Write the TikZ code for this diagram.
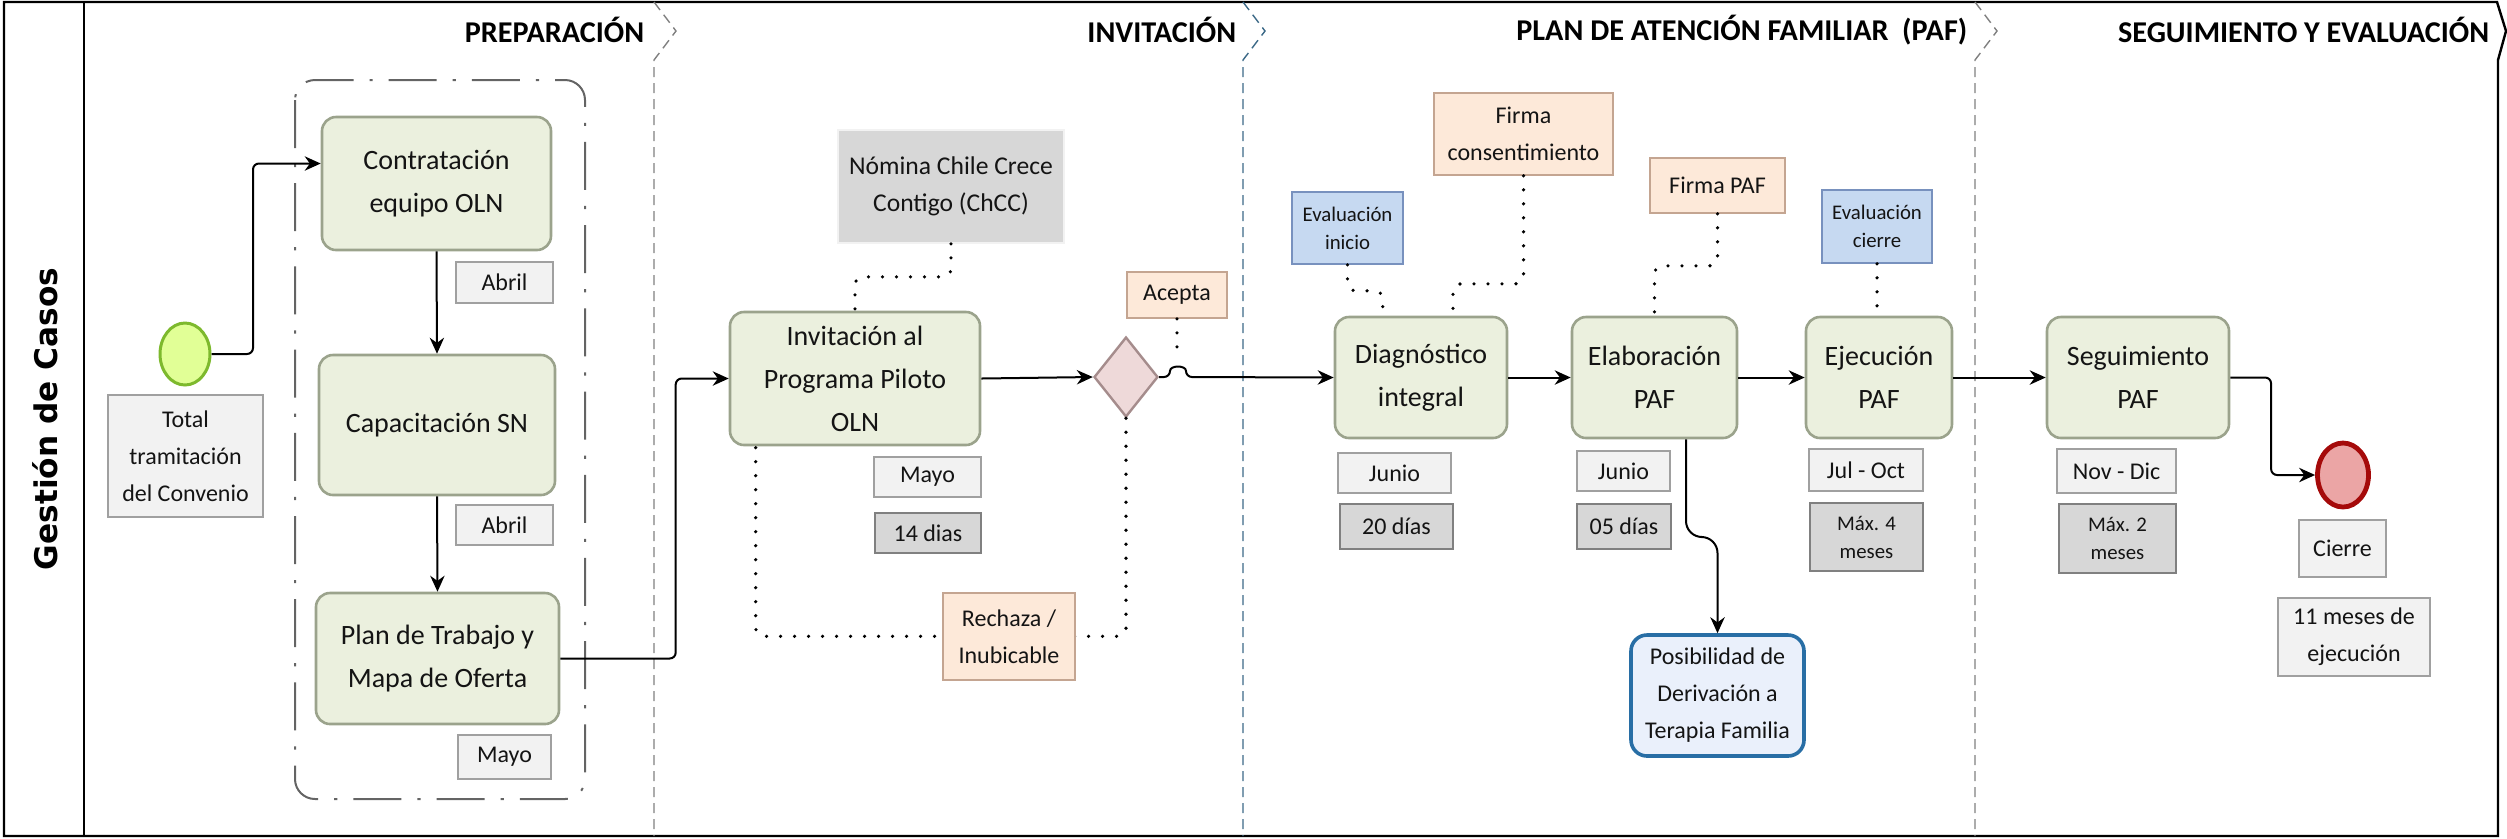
\documentclass[tikz,border=0pt]{standalone}
\usepackage{fontspec}
\setmainfont{Carlito}
\newfontfamily\lanefont{DejaVu Sans}
\usetikzlibrary{arrows.meta,shapes.geometric,calc}

\definecolor{taskfill}{RGB}{235,240,222}
\definecolor{taskdraw}{RGB}{155,163,140}
\definecolor{lightfill}{RGB}{242,242,242}
\definecolor{lightdraw}{RGB}{160,160,160}
\definecolor{darkfill}{RGB}{215,215,215}
\definecolor{darkdraw}{RGB}{128,128,128}
\definecolor{peachfill}{RGB}{253,233,217}
\definecolor{peachdraw}{RGB}{196,165,145}
\definecolor{bluefill}{RGB}{198,217,241}
\definecolor{bluedraw}{RGB}{120,145,190}
\definecolor{posfill}{RGB}{234,240,251}
\definecolor{posdraw}{RGB}{40,110,165}
\definecolor{startfill}{RGB}{225,255,150}
\definecolor{startdraw}{RGB}{125,185,45}
\definecolor{endfill}{RGB}{235,165,165}
\definecolor{enddraw}{RGB}{165,10,10}
\definecolor{gatefill}{RGB}{238,217,217}
\definecolor{gatedraw}{RGB}{165,140,140}
\definecolor{sepgrey}{RGB}{128,128,128}
\definecolor{sepblue}{RGB}{60,105,135}
\definecolor{grpgrey}{RGB}{100,100,100}
\definecolor{txt}{RGB}{20,20,20}

\newcommand{\fmain}{\fontsize{7}{10.75}\selectfont}
\newcommand{\flab}{\fontsize{6}{9.25}\selectfont}
\newcommand{\fnom}{\fontsize{6.4}{9.25}\selectfont}
\newcommand{\fsmall}{\fontsize{5.2}{7}\selectfont}
\newcommand{\fhead}{\fontsize{7.55}{9}\selectfont\bfseries}

\tikzset{
  sz/.style 2 args={minimum width=#1*0.25pt, minimum height=#2*0.25pt},
  task/.style={draw=taskdraw, fill=taskfill, line width=0.65pt, rounded corners=3.5pt,
    align=center, inner sep=0pt, font=\fmain, text=txt},
  lab/.style={draw=lightdraw, fill=lightfill, line width=0.4pt, align=center,
    inner sep=0pt, font=\flab, text=txt},
  labd/.style={lab, draw=darkdraw, fill=darkfill},
  peach/.style={lab, draw=peachdraw, fill=peachfill},
  evalbox/.style={lab, draw=bluedraw, fill=bluefill, font=\fsmall},
  posbox/.style={draw=posdraw, fill=posfill, line width=0.9pt, rounded corners=4pt,
    align=center, inner sep=0pt, font=\flab, text=txt},
  flow/.style={draw=black, line width=0.5pt, -{Stealth[length=4pt,width=3.6pt]}, rounded corners=1.5pt},
  assoc/.style={draw=black, line width=0.9pt, line cap=round, dash pattern=on 0pt off 3.5pt, rounded corners=2pt},
  sep/.style={draw=sepgrey, line width=0.35pt, dash pattern=on 2.5pt off 1.5pt},
  grp/.style={draw=grpgrey, line width=0.5pt, dash pattern=on 12pt off 4pt on 0.8pt off 4pt, rounded corners=5pt},
  head/.style={font=\fhead, anchor=east, inner sep=0pt, text=black},
}

\begin{document}
\begin{tikzpicture}[x=0.25pt, y=-0.25pt]
\useasboundingbox (0,0) rectangle (2507,838);

% frame and lane
\draw[line width=0.6pt] (4,2) -- (2497,2) -- (2506,31) -- (2498,60) -- (2498,836) -- (4,836) -- cycle;
\draw[line width=0.5pt] (84,2) -- (84,836);
\node[rotate=90, font=\lanefont\bfseries\fontsize{7.8}{9}\selectfont, inner sep=0pt] (lane) at (45,419) {Gestión de Casos};

% section separators
\draw[sep] (654,2) -- (676,31) -- (654,60) -- (654,836);
\draw[sep, draw=sepblue] (1243,2) -- (1265,31) -- (1243,60) -- (1243,836);
\draw[sep] (1975,2) -- (1997,31) -- (1975,60) -- (1975,836);

% headers
\node[head] (h1) at (645,30) {PREPARACIÓN};
\node[head] (h2) at (1237,30) {INVITACIÓN};
\node[head] (h3) at (1968,30) {PLAN DE ATENCIÓN FAMILIAR\ \ (PAF)};
\node[head] (h4) at (2490,30) {SEGUIMIENTO Y EVALUACIÓN};

% group
\draw[grp] (295,80) rectangle (585,799);

% preparation
\node[ellipse, sz={50}{62}, inner sep=0pt, draw=startdraw, fill=startfill, line width=0.75pt] (start) at (185,354) {};
\node[lab, sz={155}{122}] (total) at (185.5,456) {Total\\tramitación\\del Convenio};
\node[task, sz={229}{133}] (box1) at (436.5,183.5) {Contratación\\equipo OLN};
\node[task, sz={236}{140}] (box2) at (437,425) {Capacitación SN};
\node[task, sz={243}{131}] (box3) at (437.5,658.5) {Plan de Trabajo y\\Mapa de Oferta};
\node[lab, sz={97}{41}] (abril1) at (504.5,282.5) {Abril};
\node[lab, sz={97}{40}] (abril2) at (504.5,525) {Abril};
\node[lab, sz={93}{44}] (mayo1) at (504.5,757) {Mayo};

% invitation
\node[labd, draw=lightfill, font=\fnom, sz={226}{113}] (nomina) at (951,186.5) {Nómina Chile Crece\\Contigo (ChCC)};
\node[task, sz={250}{133}] (inv) at (855,378.5) {Invitación al\\Programa Piloto\\OLN};
\node[lab, sz={107}{40}] (mayo2) at (927.5,477) {Mayo};
\node[labd, sz={106}{40}] (dias14) at (928,533) {14 dias};
\node[peach, sz={100}{46}] (acepta) at (1177,295) {Acepta};
\node[diamond, sz={64}{80}, inner sep=0pt, draw=gatedraw, fill=gatefill, line width=0.6pt] (gate) at (1126,377) {};

% PAF
\node[evalbox, sz={111}{72}] (evalini) at (1347.5,228) {Evaluación\\inicio};
\node[peach, sz={179}{82}] (firmacons) at (1523.5,134) {Firma\\consentimiento};
\node[peach, sz={135}{55}] (firmapaf) at (1717.5,185.5) {Firma PAF};
\node[evalbox, sz={110}{73}] (evalcie) at (1877,226.5) {Evaluación\\cierre};
\node[task, sz={172}{121}] (diag) at (1421,377.5) {Diagnóstico\\integral};
\node[task, sz={165}{121}] (elab) at (1654.5,377.5) {Elaboración\\PAF};
\node[task, sz={146}{121}] (ejec) at (1879,377.5) {Ejecución\\PAF};
\node[lab, sz={113}{40}] (junio1) at (1394.5,473) {Junio};
\node[labd, sz={113}{45}] (dias20) at (1396.5,526.5) {20 días};
\node[lab, sz={93}{40}] (junio2) at (1623.5,471) {Junio};
\node[labd, sz={94}{45}] (dias05) at (1624,526.5) {05 días};
\node[lab, sz={114}{42}] (juloct) at (1866,470) {Jul - Oct};
\node[labd, font=\fsmall, sz={113}{68}] (max4) at (1866.5,537) {Máx. 4\\meses};
\node[posbox, sz={173}{121}] (posib) at (1717.5,695.5) {Posibilidad de\\Derivación a\\Terapia Familia};

% follow-up
\node[task, sz={182}{121}] (seg) at (2138,377.5) {Seguimiento\\PAF};
\node[lab, sz={119}{44}] (novdic) at (2116.5,471) {Nov - Dic};
\node[labd, font=\fsmall, sz={117}{69}] (max2) at (2117.5,538.5) {Máx. 2\\meses};
\node[ellipse, sz={51}{64}, inner sep=0pt, draw=enddraw, fill=endfill, line width=1.2pt] (end) at (2343,475) {};
\node[lab, sz={87}{57}] (cierre) at (2342.5,548.5) {Cierre};
\node[lab, sz={152}{78}] (meses11) at (2354,637) {11 meses de\\ejecución};

% sequence flows
\draw[flow] (start.east) -- (253,354) |- ($(box1.west)+(0,-20)$);
\draw[flow] (box1.south) -- (box2.north);
\draw[flow] (box2.south) -- (box3.north);
\draw[flow] (box3.east) -| ($(inv.west)+(-53,0)$) -- (inv.west);
\draw[flow] (inv.east) -- (gate.west);
\draw[flow] (gate.east) -- (1170,377) .. controls (1170,365) and (1186,365) .. (1186,377) -- (diag.west);
\draw[flow] (diag.east) -- (elab.west);
\draw[flow] (elab.east) -- (ejec.west);
\draw[flow] (ejec.east) -- (seg.west);
\draw[flow] (seg.east) -| ($(end.west)+(-44,0)$) -- (end.west);
\draw[flow, rounded corners=4pt] ($(elab.south)+(31.5,0)$) -- (1686,537) -- (1717.5,537) -- (posib.north);

% associations
\draw[assoc] (nomina.south) -- ++(0,33) -| (inv.north);
\draw[assoc] (acepta.south) -- (1177,353);
\draw[assoc] (gate.south) |- ($(inv.south west)+(27,190)$) -- ($(inv.south west)+(27,0)$);
\draw[assoc] (evalini.south) -- ++(0,26) -| ($(diag.north west)+(49,0)$);
\draw[assoc] (firmacons.south) -- ++(0,108) -| ($(diag.north)+(32,0)$);
\draw[assoc] (firmapaf.south) -- ++(0,52) -| (elab.north);
\draw[assoc] (evalcie.south) -- (evalcie.south |- ejec.north);

\node[peach, sz={132}{87}] (rechaza) at (1009,636.5) {Rechaza /\\Inubicable};
\end{tikzpicture}
\end{document}
